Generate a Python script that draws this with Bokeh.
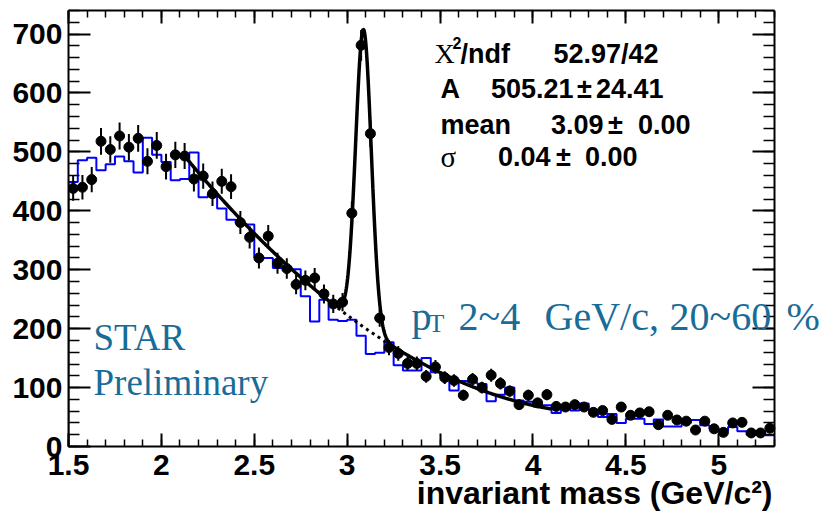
import numpy as np
from bokeh.plotting import figure
from bokeh.models import Range1d, LinearAxis, SingleIntervalTicker, Label, Title
from bokeh.embed import file_html
from bokeh.resources import INLINE

# ---------------- data ----------------
bin_lo, bin_hi, bin_w = 1.5, 5.3, 0.05
# unlike-sign counts per bin (black points)
counts = [438, 440, 453, 518, 504, 527, 508, 523, 484, 511,
          475, 495, 493, 454, 459, 429, 450, 441, 380, 355,
          320, 357, 311, 302, 275, 282, 286, 259, 242, 245,
          396, 681, 531, 218, 168, 158, 141, 141, 119, 135,
          117, 112, 87, 114, 100, 121, 107, 94, 71, 87,
          74, 88, 68, 67, 71, 67, 58, 61, 46, 67,
          53, 57, 59, 37, 53, 45, 43, 28, 43, 30,
          24, 40, 41, 23, 23, 31]
# like-sign background per bin (blue histogram)
like_sign = [449, 486, 490, 469, 479, 492, 484, 465, 524, 495,
             483, 452, 454, 499, 423, 429, 404, 385, 379, 377,
             321, 320, 303, 305, 301, 255, 212, 249, 215, 213,
             215, 188, 157, 159, 177, 138, 129, 129, 150, 126,
             120, 95, 111, 109, 106, 77, 88, 100, 78, 76,
             68, 70, 57, 71, 61, 73, 62, 50, 55, 40,
             47, 47, 38, 46, 34, 34, 40, 45, 36, 30,
             27, 33, 26, 20, 26, 19]
# fit: gaus + pol2(m-3)
fit_A, fit_mean, fit_sigma = 505.21, 3.088, 0.042
bg_pars = [223.0, -236.0, 82.8]
fit_range = (2.12, 4.10)
bg_dot_range = (2.95, 3.25)

stat_rows = [("52.97/42", None), ("505.21", "24.41"), ("3.09", "0.00"), ("0.04", "0.00")]

# ---------------- figure ----------------
W, H = 819, 515
L, T, B = 68, 10, 69
AXW = 706                      # width of the drawn axes box (1.5 .. 5.3)
fw, fh = W - L, H - T - B      # frame reaches the right canvas edge so texts may overhang
x_end = bin_lo + fw * (bin_hi - bin_lo) / AXW
p = figure(width=W, height=H, x_range=Range1d(bin_lo, x_end), y_range=Range1d(0, 740),
           output_backend="svg", toolbar_location=None,
           min_border_left=L, min_border_right=0, min_border_top=T, min_border_bottom=B)
p.xgrid.visible = False
p.ygrid.visible = False
p.outline_line_color = None
p.background_fill_color = "white"
p.border_fill_color = "white"

def X(px):
    return bin_lo + (px - L) * (bin_hi - bin_lo) / AXW
def Y(py):
    return (T + fh - py) * 740 / fh

FONT = "Liberation Sans"
SERIF = "Liberation Serif"

def style_axis(ax, major_in, minor_in, labels=True):
    ax.major_tick_in = major_in
    ax.major_tick_out = 0
    ax.minor_tick_in = minor_in
    ax.minor_tick_out = 0
    ax.axis_line_color = "black"
    ax.axis_line_width = 2
    ax.major_tick_line_width = 2
    ax.minor_tick_line_width = 1.5
    ax.major_tick_line_color = "black"
    ax.minor_tick_line_color = "black"
    if labels:
        ax.major_label_text_font = FONT
        ax.major_label_text_font_style = "bold"
        ax.major_label_text_font_size = "30px"
        ax.major_label_text_color = "black"
    else:
        ax.major_label_text_font_size = "0px"
        ax.major_label_text_color = None
        ax.major_label_standoff = 0

xa = p.xaxis[0]
ya = p.yaxis[0]
xa.ticker = SingleIntervalTicker(interval=0.5, num_minor_ticks=5)
ya.ticker = SingleIntervalTicker(interval=100, num_minor_ticks=5)
style_axis(xa, 13, 7)
style_axis(ya, 22, 11)
xa.bounds = (bin_lo, bin_hi)
xa.major_label_standoff = 8
ya.major_label_standoff = 6
xa.major_label_overrides = {2: "2", 3: "3", 4: "4", 5: "5"}

# axis title, right-aligned under the axis box
p.add_layout(Title(text="invariant mass (GeV/c\u00b2)", align="right", offset=47,
                   text_font=FONT, text_font_style="bold", text_font_size="32px",
                   text_color="black", standoff=-10), "below")

top = LinearAxis(ticker=SingleIntervalTicker(interval=0.5, num_minor_ticks=5), bounds=(bin_lo, bin_hi))
right = LinearAxis(ticker=SingleIntervalTicker(interval=100, num_minor_ticks=5), fixed_location=bin_hi)
style_axis(top, 13, 7, labels=False)
style_axis(right, 22, 11, labels=False)
p.add_layout(top, "above")
p.add_layout(right, "right")

# blue like-sign histogram
edges = bin_lo + bin_w * np.arange(len(like_sign) + 1)
sx = np.concatenate([[edges[0]], edges[:-1], [edges[-1]]])
sy = np.concatenate([[0], like_sign, [like_sign[-1]]])
p.step(sx, sy, mode="after", line_color="#0000ff", line_width=2)

# fit curve
def bg(m):
    u = m - 3.0
    return bg_pars[0] + bg_pars[1] * u + bg_pars[2] * u * u
fx = np.linspace(fit_range[0], fit_range[1], 800)
fy = fit_A * np.exp(-0.5 * ((fx - fit_mean) / fit_sigma) ** 2) + bg(fx)
p.line(fx, fy, line_color="black", line_width=3.5)
bx = np.linspace(bg_dot_range[0], bg_dot_range[1], 100)
p.line(bx, bg(bx), line_color="black", line_width=3, line_dash="3 4")

# data points with errors
centers = bin_lo + bin_w * (np.arange(len(counts)) + 0.5)
cnt = np.array(counts, dtype=float)
err = np.sqrt(cnt)
p.segment(centers, cnt - err, centers, cnt + err, line_color="black", line_width=2)
p.scatter(centers, cnt, size=10, marker="circle", fill_color="black", line_color="black")

# ---------------- texts ----------------
def lab(txt, px, py, size, font=FONT, style="bold", color="black", align="left"):
    p.add_layout(Label(x=X(px), y=Y(py), text=txt, text_font=font, text_font_style=style,
                       text_font_size=f"{size}px", text_color=color, text_align=align,
                       text_baseline="alphabetic"))

# stats box
SS = 27
lab("\u03a7", 434, 53, 28, font=SERIF, style="normal")
lab("2", 452, 42, 16)
lab("/ndf", 460, 53, SS)
lab(stat_rows[0][0], 658, 53, SS, align="right")
lab("A", 440, 88, SS)
lab(stat_rows[1][0], 573, 88, SS, align="right")
lab("\u00b1", 584, 88, SS, align="center")
lab(stat_rows[1][1], 663, 88, SS, align="right")
lab("mean", 440, 124, SS)
lab(stat_rows[2][0], 603, 124, SS, align="right")
lab("\u00b1", 615, 124, SS, align="center")
lab(stat_rows[2][1], 690, 124, SS, align="right")
lab("\u03c3", 440, 156, 29, font=SERIF, style="normal")
lab(stat_rows[3][0], 550, 156, SS, align="right")
lab("\u00b1", 563, 156, SS, align="center")
lab(stat_rows[3][1], 637, 156, SS, align="right")

BLUE = "#1a6c98"
lab("STAR", 93, 337, 37, font=SERIF, style="normal", color=BLUE)
lab("Preliminary", 93, 382, 37, font=SERIF, style="normal", color=BLUE)
PT = 40
lab("p", 411, 316, PT, font=SERIF, style="normal", color=BLUE)
lab("T", 428, 323, 26, font=SERIF, style="normal", color=BLUE)
lab("2~4", 458, 316, PT, font=SERIF, style="normal", color=BLUE)
lab("GeV/c,", 544, 316, PT, font=SERIF, style="normal", color=BLUE)
lab("20~60", 669, 316, PT, font=SERIF, style="normal", color=BLUE)
lab("%", 786, 316, PT, font=SERIF, style="normal", color=BLUE)

open("out.html", "w").write(file_html(p, INLINE))
